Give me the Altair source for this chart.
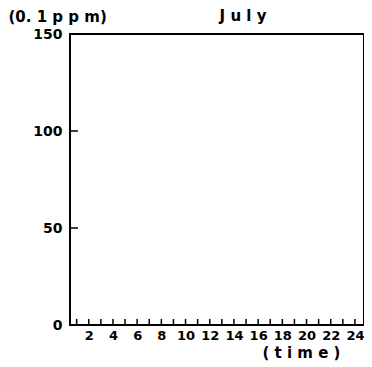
import altair as alt
import pandas as pd

hours = list(range(1, 25))
hour_labels = list(range(2, 25, 2))
y_ticks = [0, 50, 100, 150]
y_domain = [0, 150]
x_domain = [0.45, 24.75]
month = ["J u l y"]
unit = "(0. 1 p p m)"
x_title = "( t i m e )"

FONT = "DejaVu Sans"

hours_df = pd.DataFrame({"hour": hours})
yt_df = pd.DataFrame({"v": y_ticks})
month_df = pd.DataFrame({"m": month})

x_scale = alt.Scale(domain=x_domain, nice=False, zero=False)
y_scale = alt.Scale(domain=y_domain, nice=False)

base_x = alt.X(
    "hour:Q",
    scale=x_scale,
    axis=alt.Axis(
        values=hour_labels, tickSize=0, domain=False, grid=False,
        labelFlush=False, labelOverlap=False, labelPadding=4,
        labelFont=FONT, labelFontSize=13, labelFontWeight="bold", labelColor="black",
        title=x_title, titleFont=FONT, titleFontSize=15, titleFontWeight="bold",
        titleX=231, titleY=27, titleAlign="center",
        titleBaseline="middle", titleColor="black",
    ),
)

x_ticks = alt.Chart(hours_df).mark_rule(color="black", strokeWidth=1.5).encode(
    x=base_x,
    y=alt.value(291),
    y2=alt.value(285),
)

y_ticks_layer = alt.Chart(yt_df).mark_rule(color="black", strokeWidth=1.5).encode(
    y=alt.Y(
        "v:Q",
        scale=y_scale,
        axis=alt.Axis(
            values=y_ticks, tickSize=0, domain=False, grid=False,
            labelFlush=False, labelPadding=8,
            labelFont=FONT, labelFontSize=14, labelFontWeight="bold", labelColor="black",
            title=unit, titleAngle=0, titleAlign="left", titleBaseline="middle",
            titleX=-62, titleY=-18, titleFont=FONT, titleFontSize=15,
            titleFontWeight="bold", titleColor="black",
        ),
    ),
    x=alt.value(0),
    x2=alt.value(8),
)

month_text = alt.Chart(month_df).mark_text(
    font=FONT, fontSize=15, fontWeight="bold", color="black",
    align="center", baseline="middle",
).encode(
    text="m:N",
    x=alt.value(173),
    y=alt.value(-18),
)

chart = (
    alt.layer(x_ticks, y_ticks_layer, month_text)
    .properties(
        width=294,
        height=291,
        autosize=alt.AutoSizeParams(type="none"),
        padding={"left": 62, "top": 26, "right": 0, "bottom": 36},
    )
    .configure(background="white")
    .configure_view(stroke="black", strokeWidth=2)
)

chart.save("out.html", embed_options={"renderer": "svg", "actions": False})
